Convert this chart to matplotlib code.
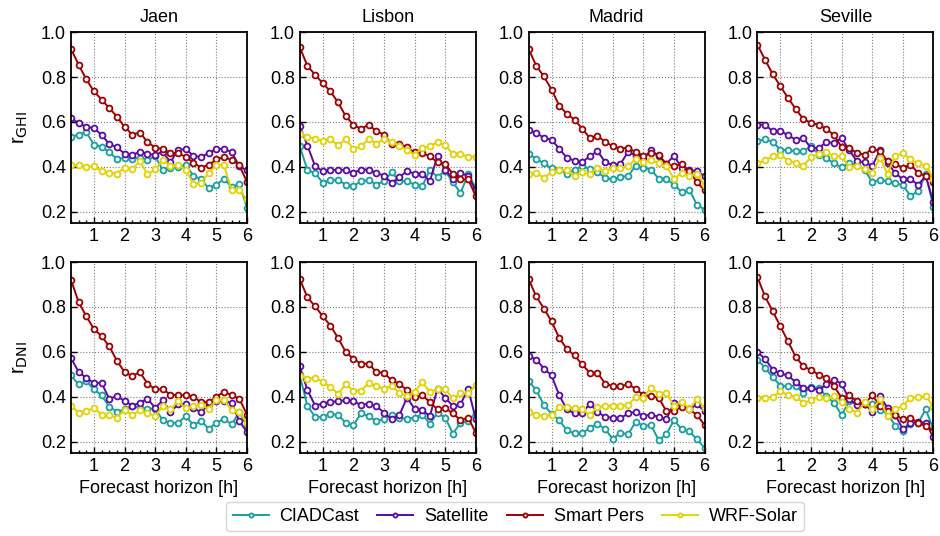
import numpy as np
import matplotlib.pyplot as plt
from matplotlib.ticker import MultipleLocator

plt.rcParams['font.family'] = ['Liberation Sans', 'DejaVu Sans']

# forecast horizon, 15 min steps
horizon = np.arange(1, 25) * 0.25

sites = ["Jaen", "Lisbon", "Madrid", "Seville"]
models = ["CIADCast", "Satellite", "Smart Pers", "WRF-Solar"]
colors = ["#17a0a0", "#5b0aa8", "#a00000", "#e2d300"]

# ---- GHI correlation ----
jaen_ghi_ciad = [0.533, 0.544, 0.554, 0.499, 0.49, 0.465, 0.436, 0.44, 0.436, 0.441, 0.43, 0.447,
                 0.385, 0.395, 0.398, 0.407, 0.361, 0.344, 0.305, 0.321, 0.347, 0.31, 0.324, 0.218]
jaen_ghi_sat = [0.616, 0.596, 0.578, 0.573, 0.542, 0.502, 0.487, 0.459, 0.453, 0.467, 0.458, 0.453,
                0.468, 0.42, 0.476, 0.479, 0.45, 0.443, 0.462, 0.479, 0.481, 0.465, 0.403, 0.384]
jaen_ghi_pers = [0.926, 0.855, 0.79, 0.736, 0.70, 0.662, 0.624, 0.578, 0.544, 0.553, 0.511, 0.486,
                 0.48, 0.462, 0.462, 0.444, 0.418, 0.397, 0.409, 0.433, 0.444, 0.431, 0.407, 0.333]
jaen_ghi_wrf = [0.407, 0.41, 0.401, 0.403, 0.381, 0.373, 0.37, 0.397, 0.39, 0.425, 0.366, 0.39,
                0.43, 0.406, 0.41, 0.387, 0.324, 0.329, 0.373, 0.407, 0.407, 0.295, 0.295, 0.255]

lisbon_ghi_ciad = [0.492, 0.385, 0.373, 0.329, 0.341, 0.341, 0.321, 0.314, 0.336, 0.341, 0.321, 0.336,
                   0.376, 0.336, 0.336, 0.321, 0.314, 0.385, 0.356, 0.381, 0.332, 0.284, 0.366, 0.307]
lisbon_ghi_sat = [0.584, 0.495, 0.403, 0.381, 0.384, 0.388, 0.385, 0.373, 0.388, 0.388, 0.373, 0.361,
                  0.329, 0.354, 0.381, 0.37, 0.37, 0.336, 0.45, 0.388, 0.344, 0.373, 0.359, 0.295]
lisbon_ghi_pers = [0.932, 0.85, 0.81, 0.773, 0.736, 0.687, 0.626, 0.587, 0.569, 0.588, 0.559, 0.544,
                   0.50, 0.504, 0.487, 0.465, 0.462, 0.447, 0.42, 0.413, 0.369, 0.344, 0.344, 0.27]
lisbon_ghi_wrf = [0.548, 0.532, 0.526, 0.517, 0.524, 0.496, 0.524, 0.48, 0.492, 0.524, 0.504, 0.524,
                  0.511, 0.495, 0.474, 0.455, 0.483, 0.492, 0.51, 0.496, 0.459, 0.459, 0.443, 0.446]

madrid_ghi_ciad = [0.458, 0.436, 0.415, 0.393, 0.385, 0.37, 0.388, 0.403, 0.391, 0.376, 0.351, 0.344,
                   0.356, 0.359, 0.406, 0.396, 0.388, 0.347, 0.347, 0.321, 0.287, 0.299, 0.23, 0.21]
madrid_ghi_sat = [0.566, 0.551, 0.529, 0.521, 0.481, 0.44, 0.428, 0.421, 0.447, 0.47, 0.422, 0.407,
                  0.413, 0.467, 0.45, 0.433, 0.477, 0.447, 0.413, 0.45, 0.396, 0.385, 0.381, 0.359]
madrid_ghi_pers = [0.926, 0.85, 0.803, 0.744, 0.673, 0.636, 0.61, 0.57, 0.529, 0.539, 0.511, 0.492,
                   0.481, 0.486, 0.465, 0.45, 0.462, 0.453, 0.413, 0.403, 0.413, 0.381, 0.332, 0.295]
madrid_ghi_wrf = [0.37, 0.373, 0.351, 0.376, 0.384, 0.384, 0.359, 0.376, 0.37, 0.396, 0.381, 0.396,
                  0.396, 0.403, 0.436, 0.421, 0.43, 0.415, 0.403, 0.347, 0.373, 0.361, 0.37, 0.321]

seville_ghi_ciad = [0.514, 0.524, 0.51, 0.477, 0.474, 0.47, 0.47, 0.492, 0.455, 0.44, 0.415, 0.398,
                    0.415, 0.409, 0.388, 0.332, 0.341, 0.336, 0.326, 0.319, 0.27, 0.292, 0.366, 0.221]
seville_ghi_sat = [0.587, 0.588, 0.559, 0.559, 0.541, 0.521, 0.529, 0.484, 0.484, 0.51, 0.507, 0.529,
                   0.474, 0.425, 0.421, 0.403, 0.473, 0.418, 0.373, 0.344, 0.344, 0.321, 0.359, 0.243]
seville_ghi_pers = [0.944, 0.877, 0.813, 0.759, 0.707, 0.658, 0.613, 0.596, 0.587, 0.57, 0.541, 0.489,
                    0.484, 0.462, 0.455, 0.48, 0.47, 0.425, 0.413, 0.396, 0.41, 0.373, 0.359, 0.333]
seville_ghi_wrf = [0.415, 0.43, 0.447, 0.455, 0.428, 0.418, 0.406, 0.443, 0.459, 0.465, 0.447, 0.447,
                   0.40, 0.403, 0.391, 0.373, 0.44, 0.37, 0.447, 0.462, 0.433, 0.415, 0.406, 0.347]

# ---- DNI correlation ----
jaen_dni_ciad = [0.495, 0.455, 0.47, 0.433, 0.406, 0.356, 0.333, 0.344, 0.359, 0.351, 0.347, 0.347,
                 0.295, 0.284, 0.284, 0.314, 0.274, 0.292, 0.258, 0.284, 0.302, 0.277, 0.333, 0.27]
jaen_dni_sat = [0.573, 0.511, 0.484, 0.462, 0.462, 0.391, 0.403, 0.381, 0.361, 0.373, 0.391, 0.351,
                0.384, 0.333, 0.366, 0.366, 0.348, 0.332, 0.366, 0.381, 0.381, 0.373, 0.292, 0.243]
jaen_dni_pers = [0.921, 0.822, 0.759, 0.702, 0.67, 0.625, 0.561, 0.51, 0.492, 0.51, 0.459, 0.433,
                 0.433, 0.41, 0.407, 0.407, 0.40, 0.376, 0.376, 0.40, 0.422, 0.407, 0.391, 0.321]
jaen_dni_wrf = [0.361, 0.329, 0.336, 0.351, 0.321, 0.319, 0.307, 0.341, 0.319, 0.339, 0.329, 0.314,
                0.359, 0.344, 0.381, 0.348, 0.361, 0.363, 0.347, 0.384, 0.385, 0.339, 0.332, 0.284]

lisbon_dni_ciad = [0.495, 0.359, 0.311, 0.31, 0.324, 0.319, 0.284, 0.273, 0.326, 0.314, 0.292, 0.30,
                   0.321, 0.307, 0.302, 0.307, 0.321, 0.28, 0.329, 0.307, 0.236, 0.284, 0.292, 0.329]
lisbon_dni_sat = [0.536, 0.43, 0.361, 0.37, 0.376, 0.381, 0.384, 0.381, 0.363, 0.37, 0.359, 0.329,
                  0.30, 0.317, 0.396, 0.347, 0.341, 0.314, 0.436, 0.396, 0.359, 0.366, 0.436, 0.30]
lisbon_dni_pers = [0.924, 0.843, 0.803, 0.759, 0.717, 0.662, 0.60, 0.569, 0.547, 0.548, 0.51, 0.507,
                   0.473, 0.458, 0.43, 0.40, 0.407, 0.376, 0.344, 0.351, 0.326, 0.296, 0.307, 0.24]
lisbon_dni_wrf = [0.492, 0.481, 0.484, 0.467, 0.443, 0.413, 0.455, 0.428, 0.428, 0.462, 0.447, 0.436,
                  0.45, 0.418, 0.403, 0.421, 0.465, 0.422, 0.433, 0.433, 0.393, 0.415, 0.415, 0.452]

madrid_dni_ciad = [0.47, 0.43, 0.363, 0.324, 0.296, 0.25, 0.237, 0.24, 0.259, 0.281, 0.255, 0.213,
                   0.24, 0.233, 0.289, 0.27, 0.274, 0.207, 0.233, 0.296, 0.255, 0.247, 0.21, 0.173]
madrid_dni_sat = [0.581, 0.566, 0.526, 0.495, 0.407, 0.344, 0.326, 0.326, 0.37, 0.333, 0.31, 0.307,
                  0.304, 0.326, 0.333, 0.314, 0.321, 0.31, 0.30, 0.373, 0.359, 0.344, 0.366, 0.336]
madrid_dni_pers = [0.924, 0.847, 0.793, 0.736, 0.662, 0.613, 0.584, 0.544, 0.507, 0.507, 0.459, 0.447,
                   0.447, 0.455, 0.436, 0.407, 0.403, 0.396, 0.336, 0.336, 0.356, 0.344, 0.319, 0.274]
madrid_dni_wrf = [0.333, 0.321, 0.314, 0.317, 0.354, 0.354, 0.351, 0.344, 0.319, 0.354, 0.359, 0.361,
                  0.361, 0.363, 0.40, 0.396, 0.44, 0.413, 0.418, 0.359, 0.378, 0.347, 0.388, 0.351]

seville_dni_ciad = [0.566, 0.529, 0.487, 0.45, 0.447, 0.45, 0.415, 0.444, 0.44, 0.403, 0.373, 0.319,
                    0.381, 0.376, 0.37, 0.37, 0.341, 0.329, 0.27, 0.247, 0.277, 0.284, 0.344, 0.255]
seville_dni_sat = [0.599, 0.569, 0.521, 0.504, 0.495, 0.465, 0.44, 0.44, 0.43, 0.455, 0.477, 0.458,
                   0.388, 0.363, 0.37, 0.332, 0.403, 0.351, 0.321, 0.255, 0.284, 0.287, 0.284, 0.222]
seville_dni_pers = [0.933, 0.847, 0.781, 0.714, 0.647, 0.578, 0.536, 0.519, 0.499, 0.484, 0.447, 0.396,
                    0.406, 0.381, 0.366, 0.407, 0.361, 0.336, 0.321, 0.299, 0.307, 0.284, 0.27, 0.247]
seville_dni_wrf = [0.396, 0.396, 0.40, 0.425, 0.407, 0.40, 0.373, 0.384, 0.40, 0.396, 0.403, 0.376,
                   0.347, 0.329, 0.376, 0.344, 0.388, 0.314, 0.344, 0.359, 0.396, 0.398, 0.403, 0.356]

ghi = [
    [jaen_ghi_ciad, jaen_ghi_sat, jaen_ghi_pers, jaen_ghi_wrf],
    [lisbon_ghi_ciad, lisbon_ghi_sat, lisbon_ghi_pers, lisbon_ghi_wrf],
    [madrid_ghi_ciad, madrid_ghi_sat, madrid_ghi_pers, madrid_ghi_wrf],
    [seville_ghi_ciad, seville_ghi_sat, seville_ghi_pers, seville_ghi_wrf],
]
dni = [
    [jaen_dni_ciad, jaen_dni_sat, jaen_dni_pers, jaen_dni_wrf],
    [lisbon_dni_ciad, lisbon_dni_sat, lisbon_dni_pers, lisbon_dni_wrf],
    [madrid_dni_ciad, madrid_dni_sat, madrid_dni_pers, madrid_dni_wrf],
    [seville_dni_ciad, seville_dni_sat, seville_dni_pers, seville_dni_wrf],
]

fs = 13

fig, axes = plt.subplots(2, 4, figsize=(9.4, 5.36), dpi=100)
fig.subplots_adjust(left=0.0755, right=0.993, top=0.940, bottom=0.155, wspace=0.30, hspace=0.205)

for row, data in enumerate([ghi, dni]):
    for col in range(4):
        ax = axes[row, col]
        for k in range(4):
            ax.plot(horizon, data[col][k], color=colors[k], lw=1.4, marker='o', ms=4.2,
                    mfc='white', mec=colors[k], mew=1.3, label=models[k])
        ax.set_xlim(0.25, 6)
        ax.set_ylim(0.15, 1.0)
        ax.xaxis.set_major_locator(MultipleLocator(1))
        ax.xaxis.set_minor_locator(MultipleLocator(0.25))
        ax.tick_params(which='both', direction='in', labelsize=fs, color='black')
        ax.tick_params(which='major', length=4, width=1)
        ax.tick_params(which='minor', length=2.5, width=1)
        ax.set_yticks([0.2, 0.4, 0.6, 0.8, 1.0])
        ax.set_yticklabels(["0.2", "0.4", "0.6", "0.8", "1.0"])
        ax.grid(True, which='major', ls=':', lw=0.8, color='gray')
        for s in ax.spines.values():
            s.set_linewidth(1.3)
        if row == 0:
            ax.set_title(sites[col], fontsize=fs, pad=7)
        else:
            ax.set_xlabel("Forecast horizon [h]", fontsize=fs)

axes[0, 0].set_ylabel(r"r$_{\mathrm{GHI}}$", fontsize=14.5, labelpad=8)
axes[1, 0].set_ylabel(r"r$_{\mathrm{DNI}}$", fontsize=14.5, labelpad=8)

handles, labels = axes[0, 0].get_legend_handles_labels()
leg = fig.legend(handles, labels, loc='lower center', bbox_to_anchor=(0.548, -0.008), ncol=4,
                 fontsize=fs, markerscale=0.7, handlelength=2.0, columnspacing=1.0,
                 handletextpad=0.6, borderpad=0.35, fancybox=True, edgecolor='#cccccc')

fig.savefig("out.png", dpi=100)
